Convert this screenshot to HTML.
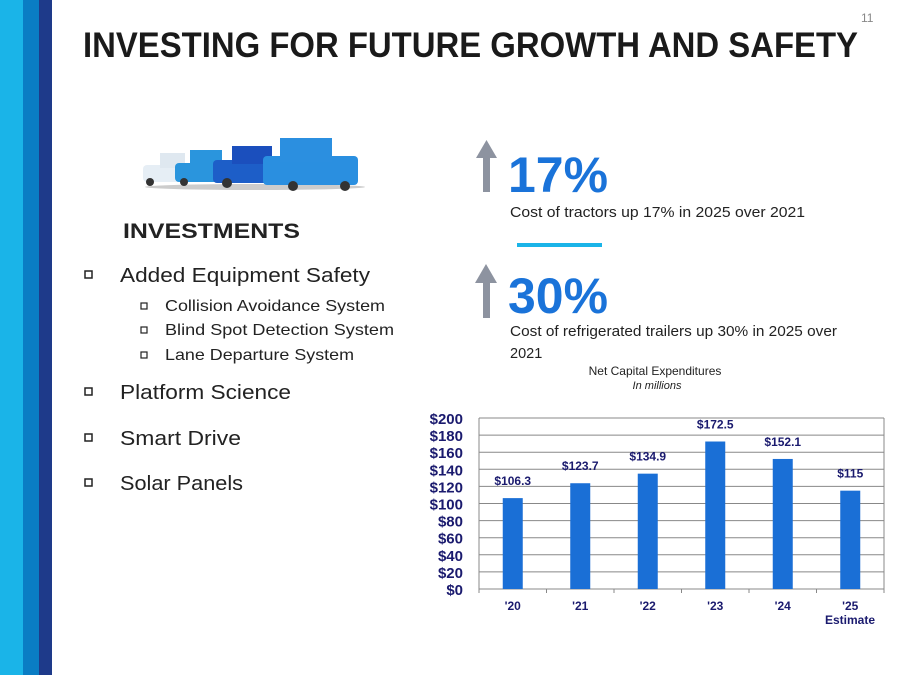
<!DOCTYPE html>
<html><head><meta charset="utf-8"><style>
html,body{margin:0;padding:0;background:#fff}
svg{display:block;font-family:"Liberation Sans",sans-serif}
</style></head><body>
<svg width="900" height="675" viewBox="0 0 900 675">
<rect x="0" y="0" width="23" height="675" fill="#1ab4e8"/>
<rect x="23" y="0" width="16" height="675" fill="#0a7dc4"/>
<rect x="39" y="0" width="13" height="675" fill="#1e3a8a"/>
<text x="861" y="22" font-size="12" fill="#888">11</text>
<text x="83" y="57" font-size="35" font-weight="bold" fill="#1a1a1a" textLength="775" lengthAdjust="spacingAndGlyphs">INVESTING FOR FUTURE GROWTH AND SAFETY</text>

<g>
<ellipse cx="255" cy="187" rx="110" ry="3" fill="#ccc"/>
<rect x="143" y="165" width="45" height="17" rx="4" fill="#e6eef5"/><rect x="160" y="153" width="25" height="15" fill="#dfe8f0"/>
<rect x="175" y="163" width="45" height="19" rx="4" fill="#2a95dd"/><rect x="190" y="150" width="32" height="16" fill="#2a95dd"/>
<rect x="213" y="160" width="55" height="23" rx="4" fill="#1d5ec8"/><rect x="232" y="146" width="40" height="18" fill="#1b4fbd"/>
<rect x="263" y="156" width="95" height="29" rx="4" fill="#2a8fe0"/><rect x="280" y="138" width="52" height="24" fill="#2b8fe0"/>
<circle cx="150" cy="182" r="4" fill="#333"/><circle cx="184" cy="182" r="4" fill="#333"/><circle cx="227" cy="183" r="5" fill="#333"/><circle cx="293" cy="186" r="5" fill="#333"/><circle cx="345" cy="186" r="5" fill="#333"/>
</g>

<text x="123" y="238" font-size="21" font-weight="bold" fill="#222" textLength="177" lengthAdjust="spacingAndGlyphs">INVESTMENTS</text>
<g fill="#222">
<rect x="85" y="271" width="7" height="7" fill="none" stroke="#222" stroke-width="1.5"/>
<text x="120" y="282" font-size="20" textLength="250" lengthAdjust="spacingAndGlyphs">Added Equipment Safety</text>
<rect x="141" y="303" width="6" height="6" fill="none" stroke="#222" stroke-width="1.2"/>
<text x="165" y="311" font-size="16" textLength="220" lengthAdjust="spacingAndGlyphs">Collision Avoidance System</text>
<rect x="141" y="327" width="6" height="6" fill="none" stroke="#222" stroke-width="1.2"/>
<text x="165" y="335" font-size="16" textLength="229" lengthAdjust="spacingAndGlyphs">Blind Spot Detection System</text>
<rect x="141" y="352" width="6" height="6" fill="none" stroke="#222" stroke-width="1.2"/>
<text x="165" y="360" font-size="16" textLength="189" lengthAdjust="spacingAndGlyphs">Lane Departure System</text>
<rect x="85" y="388" width="7" height="7" fill="none" stroke="#222" stroke-width="1.5"/>
<text x="120" y="399" font-size="20" textLength="171" lengthAdjust="spacingAndGlyphs">Platform Science</text>
<rect x="85" y="434" width="7" height="7" fill="none" stroke="#222" stroke-width="1.5"/>
<text x="120" y="445" font-size="20" textLength="121" lengthAdjust="spacingAndGlyphs">Smart Drive</text>
<rect x="85" y="479" width="7" height="7" fill="none" stroke="#222" stroke-width="1.5"/>
<text x="120" y="490" font-size="20" textLength="123" lengthAdjust="spacingAndGlyphs">Solar Panels</text>
</g>

<path d="M483,192 V158 H476 L486.5,140 L497,158 H490 V192 Z" fill="#8d93a0"/>
<text x="508" y="192" font-size="50" font-weight="bold" fill="#1a73d9" textLength="100" lengthAdjust="spacingAndGlyphs">17%</text>
<text x="510" y="217" font-size="14.5" fill="#222" textLength="295" lengthAdjust="spacingAndGlyphs">Cost of tractors up 17% in 2025 over 2021</text>
<rect x="517" y="243" width="85" height="4" fill="#1ab4e8"/>
<path d="M483,318 V283 H475 L486,264 L497,283 H490 V318 Z" fill="#8d93a0"/>
<text x="508" y="313" font-size="50" font-weight="bold" fill="#1a73d9" textLength="100" lengthAdjust="spacingAndGlyphs">30%</text>
<text x="510" y="336" font-size="14.5" fill="#222" textLength="327" lengthAdjust="spacingAndGlyphs">Cost of refrigerated trailers up 30% in 2025 over</text>
<text x="510" y="358" font-size="14.5" fill="#222">2021</text>
<text x="655" y="375" font-size="12" fill="#222" text-anchor="middle">Net Capital Expenditures</text>
<text x="657" y="389" font-size="11" font-style="italic" fill="#222" text-anchor="middle">In millions</text>
<g id="chart"></g>
</svg>
<script>
const categories=["'20","'21","'22","'23","'24","'25"];
const values=[106.3,123.7,134.9,172.5,152.1,115];
const valueLabels=["$106.3","$123.7","$134.9","$172.5","$152.1","$115"];
const yTicks=[0,20,40,60,80,100,120,140,160,180,200];
const NS="http://www.w3.org/2000/svg";
const g=document.getElementById('chart');
const x0=479,x1=884,yTop=418,yBot=589,yMax=200;
const bw=(x1-x0)/categories.length;
const y=v=>yBot-(v/yMax)*(yBot-yTop);
const xc=i=>x0+bw*(i+0.5);
function mk(t,a){const e=document.createElementNS(NS,t);for(const k in a)e.setAttribute(k,a[k]);g.appendChild(e);return e;}
yTicks.forEach(t=>{
  const l=mk('line',{x1:x0,x2:x1,y1:y(t),y2:y(t),stroke:'#888','stroke-width':1});
  
  
  const tx=mk('text',{x:463,y:y(t)+6,'font-size':15,'font-weight':'bold',fill:'#1a1a6e','text-anchor':'end'});
  tx.textContent='$'+t;
  
  
});
const bl=mk('line',{x1:x0,x2:x0,y1:yTop,y2:yBot,stroke:'#888'});


const rl=mk('line',{x1:x1,x2:x1,y1:yTop,y2:yBot,stroke:'#888'});


for(let i=0;i<=categories.length;i++){
  const tk=mk('line',{x1:x0+bw*i,x2:x0+bw*i,y1:yBot,y2:yBot+4,stroke:'#888'});
  
  
}
categories.forEach((c,i)=>{
  const r=mk('rect',{x:xc(i)-10,y:y(values[i]),width:20,height:yBot-y(values[i]),fill:'#1a6fd6'});
  
  
  const vl=mk('text',{x:xc(i),y:y(values[i])-13,'font-size':12,'font-weight':'bold',fill:'#1a1a6e','text-anchor':'middle'});
  vl.textContent=valueLabels[i];
  
  
  const xl=mk('text',{x:xc(i),y:610,'font-size':12,'font-weight':'bold',fill:'#1a1a6e','text-anchor':'middle'});
  xl.textContent=c;
  
  
});
const est=mk('text',{x:850,y:624,'font-size':12,'font-weight':'bold',fill:'#1a1a6e','text-anchor':'middle'});
est.textContent='Estimate';


</script>
</body></html>
